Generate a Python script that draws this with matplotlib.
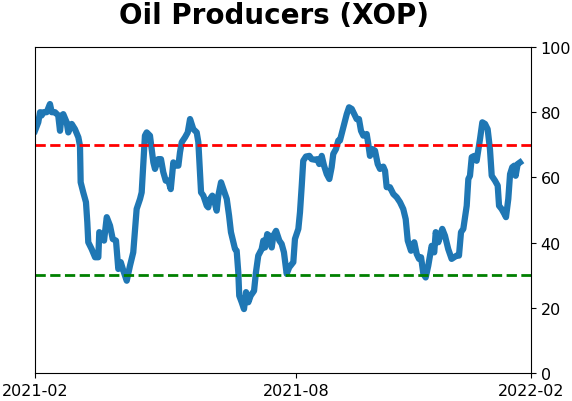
import matplotlib
matplotlib.use('Agg')
import matplotlib.pyplot as plt

# days since 2021-02-01 and indicator reading
days = [0, 2.4, 3.7, 4.9, 6.1, 8.6, 11.0, 12.3, 14.7, 17.1,
        18.4, 19.6, 20.8, 23.3, 24.5, 27.0, 29.4, 31.9, 33.1, 33.6,
        35.5, 37.5, 38.5, 39.2, 41.7, 44.2, 46.6, 47.3, 49.8, 50.8,
        52.8, 55.2, 57.2, 59.6, 61.3, 63.1, 65.0, 67.5, 69.9, 72.3,
        74.8, 77.3, 78.5, 80.9, 82.2, 84.6, 87.1, 88.3, 90.7, 92.7,
        94.4, 96.2, 98.1, 99.9, 101.8, 103.0, 105.5, 106.7, 108.0, 110.4,
        112.4, 114.1, 115.3, 116.5, 119.0, 120.2, 122.2, 123.9, 126.4, 127.5,
        128.8, 130.5, 131.9, 133.7, 134.9, 136.9, 138.6, 141.1, 142.8, 144.2,
        147.2, 148.4, 149.6, 150.3, 152.1, 153.8, 155.3, 157.0, 158.7, 161.2,
        162.6, 164.3, 166.8, 168.0, 169.3, 170.9, 172.4, 174.2, 175.4, 177.4,
        179.8, 181.5, 183.2, 185.2, 187.1, 190.1, 191.3, 193.8, 195.0, 196.3,
        197.4, 199.4, 201.9, 203.6, 206.1, 207.7, 209.2, 211.0, 212.7, 214.7,
        216.6, 218.3, 219.5, 221.5, 223.2, 224.4, 226.9, 229.4, 231.1, 233.1,
        235.0, 236.7, 238.4, 239.9, 241.6, 244.1, 245.3, 246.5, 248.2, 250.2,
        252.2, 253.9, 256.3, 257.6, 258.8, 261.2, 263.7, 266.2, 268.6, 271.0,
        272.8, 274.3, 276.7, 279.1, 280.9, 282.6, 284.1, 285.8, 287.5, 289.4,
        291.9, 293.8, 294.9, 296.8, 299.7, 301.7, 304.1, 306.6, 310.3, 312.0,
        313.5, 315.2, 317.7, 318.9, 320.1, 321.4, 323.3, 325.0, 327.5, 329.2,
        331.2, 333.1, 334.8, 336.1, 338.5, 340.5, 341.5, 343.4, 345.4, 346.6,
        348.3, 349.6, 351.2, 352.7, 353.7, 355.2, 356.9]

values = [74.3, 76.9, 80, 79, 80, 80, 82.5, 80, 80, 79,
          74.3, 79, 79.4, 76.9, 73.8, 76.4, 74.8, 72.3, 69.7, 58.5,
          55.4, 52.4, 46.2, 40.1, 38, 35.5, 35.5, 43.2, 42.1, 40.6,
          47.8, 45.2, 41.1, 40.6, 31.9, 34, 31.4, 28.3, 32.9, 37,
          50.3, 53.4, 55.4, 72.8, 73.8, 72.8, 64.6, 62.6, 65.6, 65.6,
          61.6, 59, 59, 56.4, 64.6, 63.6, 63.6, 67.7, 70.8, 72.3,
          73.8, 77.9, 76.4, 74.8, 73.8, 70.8, 55.4, 54.4, 51.3, 50.8,
          53.4, 54.4, 52.9, 49.8, 54.4, 58.5, 56.4, 53.4, 48.3, 43.2,
          38, 37.5, 30.9, 23.7, 21.7, 19.6, 24.8, 21.7, 23.7, 25.2,
          30.9, 36, 38, 40.6, 38.5, 42.6, 42.1, 38.5, 42.1, 43.6,
          40.6, 39.6, 37, 30.4, 32.4, 34, 41.1, 44.2, 49.3, 57.5,
          65.1, 66.4, 66.6, 65.6, 65.4, 65.6, 64.1, 66.6, 63.6, 61,
          59.5, 63.1, 67.2, 68.7, 71.3, 71.3, 75.4, 79.4, 81.5, 81,
          79.4, 77.9, 77.9, 74.3, 72.8, 73.3, 70.2, 66.6, 68.7, 68.2,
          64.1, 62.6, 63.3, 62, 57, 57, 54.9, 53.9, 52.4, 50.3,
          47.2, 40.6, 37.5, 40.1, 36.5, 35, 35.5, 30.4, 29.3, 32.9,
          39, 37, 43.2, 40.1, 44.2, 42.1, 38, 35, 36, 36,
          43.2, 44.2, 51.3, 59.5, 60.5, 66.2, 66.6, 65.1, 71.8, 76.9,
          76.4, 74.8, 68.7, 60.5, 59, 57.5, 51.3, 50.3, 48.8, 47.8,
          53.4, 61, 63.1, 63.6, 60.5, 64.1, 64.6]

tick_days = [0, 192, 365]
tick_labels = ['2021-02', '2021-08', '2022-02']
upper, lower = 70, 30

fig = plt.figure(figsize=(5.72, 4.02), dpi=100)
ax = fig.add_axes([0.0612, 0.0697, 0.8671, 0.8109])

ax.plot(days, values, color='#1f77b4', lw=4.5)
ax.axhline(upper, color='red', ls='--', lw=2)
ax.axhline(lower, color='green', ls='--', lw=2)

ax.set_xlim(0, 365)
ax.set_ylim(0, 100)
ax.set_xticks(tick_days)
ax.set_xticklabels(tick_labels)
ax.yaxis.tick_right()
ax.tick_params(labelsize=11.5)

fig.suptitle('Oil Producers (XOP)', fontsize=20, fontweight='bold', x=0.479, y=0.995)

fig.savefig('out.png', dpi=100)
